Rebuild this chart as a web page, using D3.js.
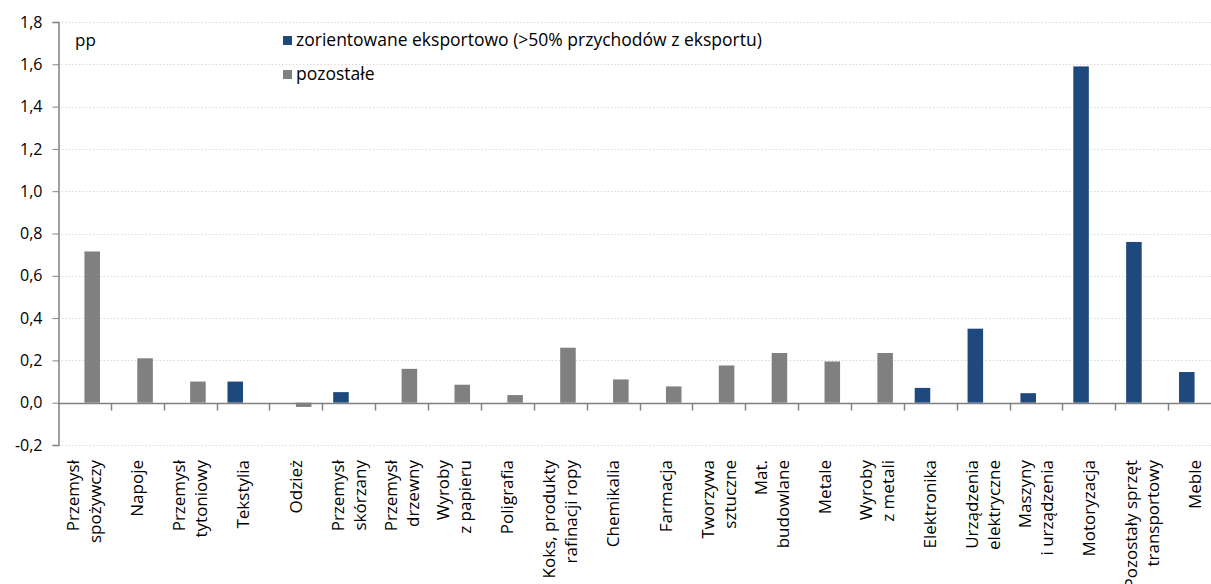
<!DOCTYPE html>
<html>
<head>
<meta charset="utf-8">
<script src="https://cdn.jsdelivr.net/npm/d3@7"></script>
<style>
  body { margin: 0; background: #fff; }
  text { font-family: "Open Sans", sans-serif; fill: #000; }
</style>
</head>
<body>
<div id="chart"></div>
<script>
// categories (label lines) and values
var labelLines = [
    ["Przemysł", "spożywczy"], ["Napoje"], ["Przemysł", "tytoniowy"], ["Tekstylia"],
    ["Odzież"], ["Przemysł", "skórzany"], ["Przemysł", "drzewny"], ["Wyroby", "z papieru"],
    ["Poligrafia"], ["Koks, produkty", "rafinacji ropy"], ["Chemikalia"], ["Farmacja"],
    ["Tworzywa", "sztuczne"], ["Mat.", "budowlane"], ["Metale"], ["Wyroby", "z metali"],
    ["Elektronika"], ["Urządzenia", "elektryczne"], ["Maszyny", "i urządzenia"],
    ["Motoryzacja"], ["Pozostały sprzęt", "transportowy"], ["Meble"]
];
var categories = labelLines.map(d => d.join(" "));

var seriesNames = ["zorientowane eksportowo (>50% przychodów z eksportu)", "pozostałe"];
var exportValues = [null, null, null, 0.10, null, 0.05, null, null, null, null, null, null,
    null, null, null, null, 0.07, 0.35, 0.045, 1.59, 0.76, 0.145];
var otherValues = [0.715, 0.21, 0.10, null, -0.02, null, 0.16, 0.085, 0.036, 0.26, 0.11, 0.077,
    0.176, 0.235, 0.195, 0.235, null, null, null, null, null, null];
var yTicks = [-0.2, 0, 0.2, 0.4, 0.6, 0.8, 1.0, 1.2, 1.4, 1.6, 1.8];

var colors = ["#1f497d", "#808080"];

var svgWidth = 1211;
var svgHeight = 584;

var svg = d3.select("#chart")
    .append("svg")
    .attr("width", svgWidth)
    .attr("height", svgHeight);

var plLocale = d3.formatLocale({ decimal: ",", thousands: " ", grouping: [3], currency: ["", ""], minus: "-" });
var fmt = plLocale.format(".1f");

// scales
var x0 = d3.scaleBand()
    .domain(categories)
    .range([58, 1221])
    .padding(0);

var x1 = d3.scaleBand()
    .domain(seriesNames)
    .range([0, x0.bandwidth()])
    .paddingInner(0)
    .paddingOuter(0.7);

var y = d3.scaleLinear()
    .domain([-0.2, 1.8])
    .range([445, 22]);

// grid
svg.append("g")
    .selectAll("line")
    .data(yTicks)
    .enter()
    .append("line")
    .attr("x1", 58)
    .attr("x2", svgWidth)
    .attr("y1", d => Math.round(y(d)) + 0.5)
    .attr("y2", d => Math.round(y(d)) + 0.5)
    .attr("stroke", "#d9d9d9")
    .attr("stroke-dasharray", "1.5,2");

// y axis
var yAxis = d3.axisLeft(y)
    .tickValues(yTicks)
    .tickSize(6)
    .tickPadding(10)
    .tickFormat(fmt);

var gy = svg.append("g")
    .attr("transform", "translate(58.5,0)")
    .call(yAxis);
gy.select(".domain").attr("stroke", "#808080").attr("stroke-width", 1.5);
gy.selectAll(".tick line").attr("stroke", "#808080");
gy.selectAll(".tick text")
    .style("font-size", "16px")
    .style("fill", "#000")
    .attr("font-family", null);

// bars
var rows = categories.map((c, i) => ({ cat: c, vals: [exportValues[i], otherValues[i]] }));

var groups = svg.append("g")
    .selectAll("g")
    .data(rows)
    .enter()
    .append("g")
    .attr("transform", d => `translate(${x0(d.cat)},0)`);

groups.selectAll("rect")
    .data(d => d.vals.map((v, k) => ({ key: seriesNames[k], k: k, v: v })).filter(e => e.v !== null))
    .enter()
    .append("rect")
    .attr("x", d => x1(d.key))
    .attr("width", x1.bandwidth())
    .attr("y", d => y(Math.max(0, d.v)))
    .attr("height", d => Math.abs(y(d.v) - y(0)))
    .attr("fill", d => colors[d.k]);

// x axis line at zero with ticks between categories
var zeroY = Math.round(y(0)) + 0.5;
svg.append("line")
    .attr("x1", 58)
    .attr("x2", svgWidth)
    .attr("y1", zeroY)
    .attr("y2", zeroY)
    .attr("stroke", "#808080")
    .attr("stroke-width", 1.5);

svg.append("g")
    .selectAll("line")
    .data(categories.slice(1))
    .enter()
    .append("line")
    .attr("x1", d => Math.round(x0(d)) + 0.5)
    .attr("x2", d => Math.round(x0(d)) + 0.5)
    .attr("y1", zeroY)
    .attr("y2", zeroY + 7)
    .attr("stroke", "#808080")
    .attr("stroke-width", 1.5);

// category labels, rotated
var lineGap = 22;
svg.append("g")
    .selectAll("text")
    .data(labelLines)
    .enter()
    .append("text")
    .attr("transform", (d, i) => {
        var cx = x0(categories[i]) + x0.bandwidth() / 2 + 6 - (d.length - 1) * lineGap / 2;
        return `translate(${cx},460) rotate(-90)`;
    })
    .attr("text-anchor", "end")
    .style("font-size", "17px")
    .selectAll("tspan")
    .data(d => d)
    .enter()
    .append("tspan")
    .attr("x", 0)
    .attr("y", (d, j) => j * lineGap)
    .text(d => d);

// unit
svg.append("text")
    .attr("x", 75)
    .attr("y", 46)
    .style("font-size", "17px")
    .text("pp");

// legend
var legend = svg.append("g")
    .selectAll("g")
    .data(seriesNames)
    .enter()
    .append("g")
    .attr("transform", (d, i) => `translate(283,${36 + i * 34})`);

legend.append("rect")
    .attr("width", 9)
    .attr("height", 9)
    .attr("fill", (d, i) => colors[i]);

legend.append("text")
    .attr("x", 13)
    .attr("y", 10)
    .style("font-size", "17.5px")
    .text(d => d);
</script>
</body>
</html>
